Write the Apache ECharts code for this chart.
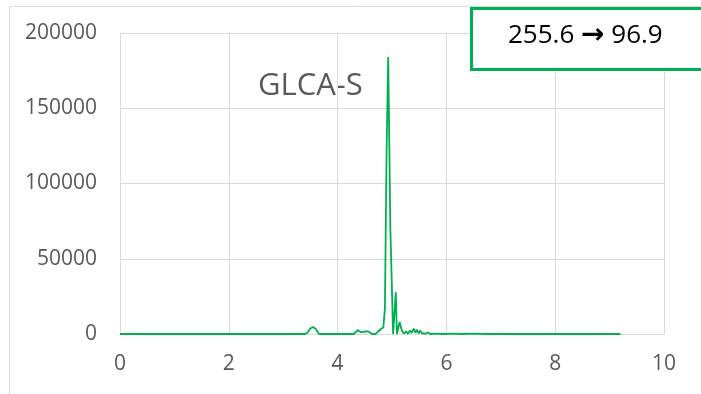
<!DOCTYPE html>
<html>
<head>
<meta charset="utf-8">
<script src="https://cdn.jsdelivr.net/npm/echarts@6/dist/echarts.min.js"></script>
<style>html,body{margin:0;padding:0;background:#fff}#c{width:701px;height:394px}</style>
</head>
<body>
<div id="c"></div>
<script>
const timeValues = [0, 3.40, 3.45, 3.50, 3.55, 3.60, 3.65, 3.70, 4.30, 4.37, 4.42, 4.47, 4.53, 4.58, 4.63, 4.70, 4.74, 4.80, 4.84, 4.87, 4.90, 4.93, 4.97, 5.02, 5.05, 5.07, 5.09, 5.11, 5.14, 5.18, 5.22, 5.26, 5.29, 5.33, 5.36, 5.40, 5.43, 5.46, 5.49, 5.52, 5.55, 5.58, 5.62, 5.66, 5.70, 5.80, 5.95, 6.10, 6.30, 6.50, 6.80, 9.20];
const intensityValues = [0, 0, 900, 3800, 4600, 3400, 300, 0, 0, 2600, 1300, 1200, 1900, 1400, 0, 0, 1500, 3500, 4300, 17000, 120000, 184000, 70000, 0, 0, 27800, 0, 3000, 8000, 2500, 300, 1800, 200, 2400, 700, 3600, 800, 2800, 400, 2300, 500, 1400, 200, 1100, 0, 300, 0, 300, 0, 200, 0, 0];
const xTicks = [0, 2, 4, 6, 8, 10];
const yTicks = [0, 50000, 100000, 150000, 200000];
const sampleLabel = 'GLCA-S';
const boxFrom = '255.6';
const boxTo = '96.9';

const points = timeValues.map((t, i) => [t, intensityValues[i]]);
const chart = echarts.init(document.getElementById('c'));
const font = '"Open Sans", sans-serif';
chart.setOption({
  animation: false,
  grid: { left: 120, right: 37, top: 33, bottom: 60 },
  xAxis: {
    type: 'value', min: xTicks[0], max: xTicks[xTicks.length - 1], interval: 2,
    axisLine: { show: true, lineStyle: { color: '#d9d9d9', width: 1 } },
    axisTick: { show: false },
    axisLabel: { color: '#595959', fontSize: 21, fontFamily: font, margin: 20 },
    splitLine: { show: true, lineStyle: { color: '#d9d9d9', width: 1 } }
  },
  yAxis: {
    type: 'value', min: yTicks[0], max: yTicks[yTicks.length - 1], interval: 50000,
    axisLine: { show: false },
    axisTick: { show: false },
    axisLabel: { color: '#595959', fontSize: 21, fontFamily: font, margin: 23, formatter: v => String(v) },
    splitLine: { show: true, lineStyle: { color: '#d9d9d9', width: 1 } }
  },
  series: [{
    type: 'line', data: points, showSymbol: false, symbol: 'none',
    lineStyle: { color: '#00B050', width: 1.8 }
  }],
  graphic: [
    { type: 'rect', left: 7, top: 4, shape: { width: 720, height: 420 }, style: { fill: 'none', stroke: '#d9d9d9', lineWidth: 1 }, silent: true },
    { type: 'text', left: 258, top: 71, style: { text: sampleLabel, fill: '#595959', font: '31px ' + font } },
    { type: 'rect', left: 470, top: 7, shape: { width: 260, height: 61 }, style: { fill: '#fff', stroke: '#00B050', lineWidth: 3 }, z: 10 },
    { type: 'text', left: 508, top: 22, z: 11, style: {
        text: '{n|' + boxFrom + ' }{a|\u2192}{n| ' + boxTo + '}',
        rich: {
          n: { fontFamily: font, fontSize: 26, fill: '#000', color: '#000' },
          a: { fontFamily: '"DejaVu Sans", sans-serif', fontWeight: 'bold', fontSize: 28, fill: '#000', color: '#000' }
        }
    } }
  ]
});
</script>
</body>
</html>
